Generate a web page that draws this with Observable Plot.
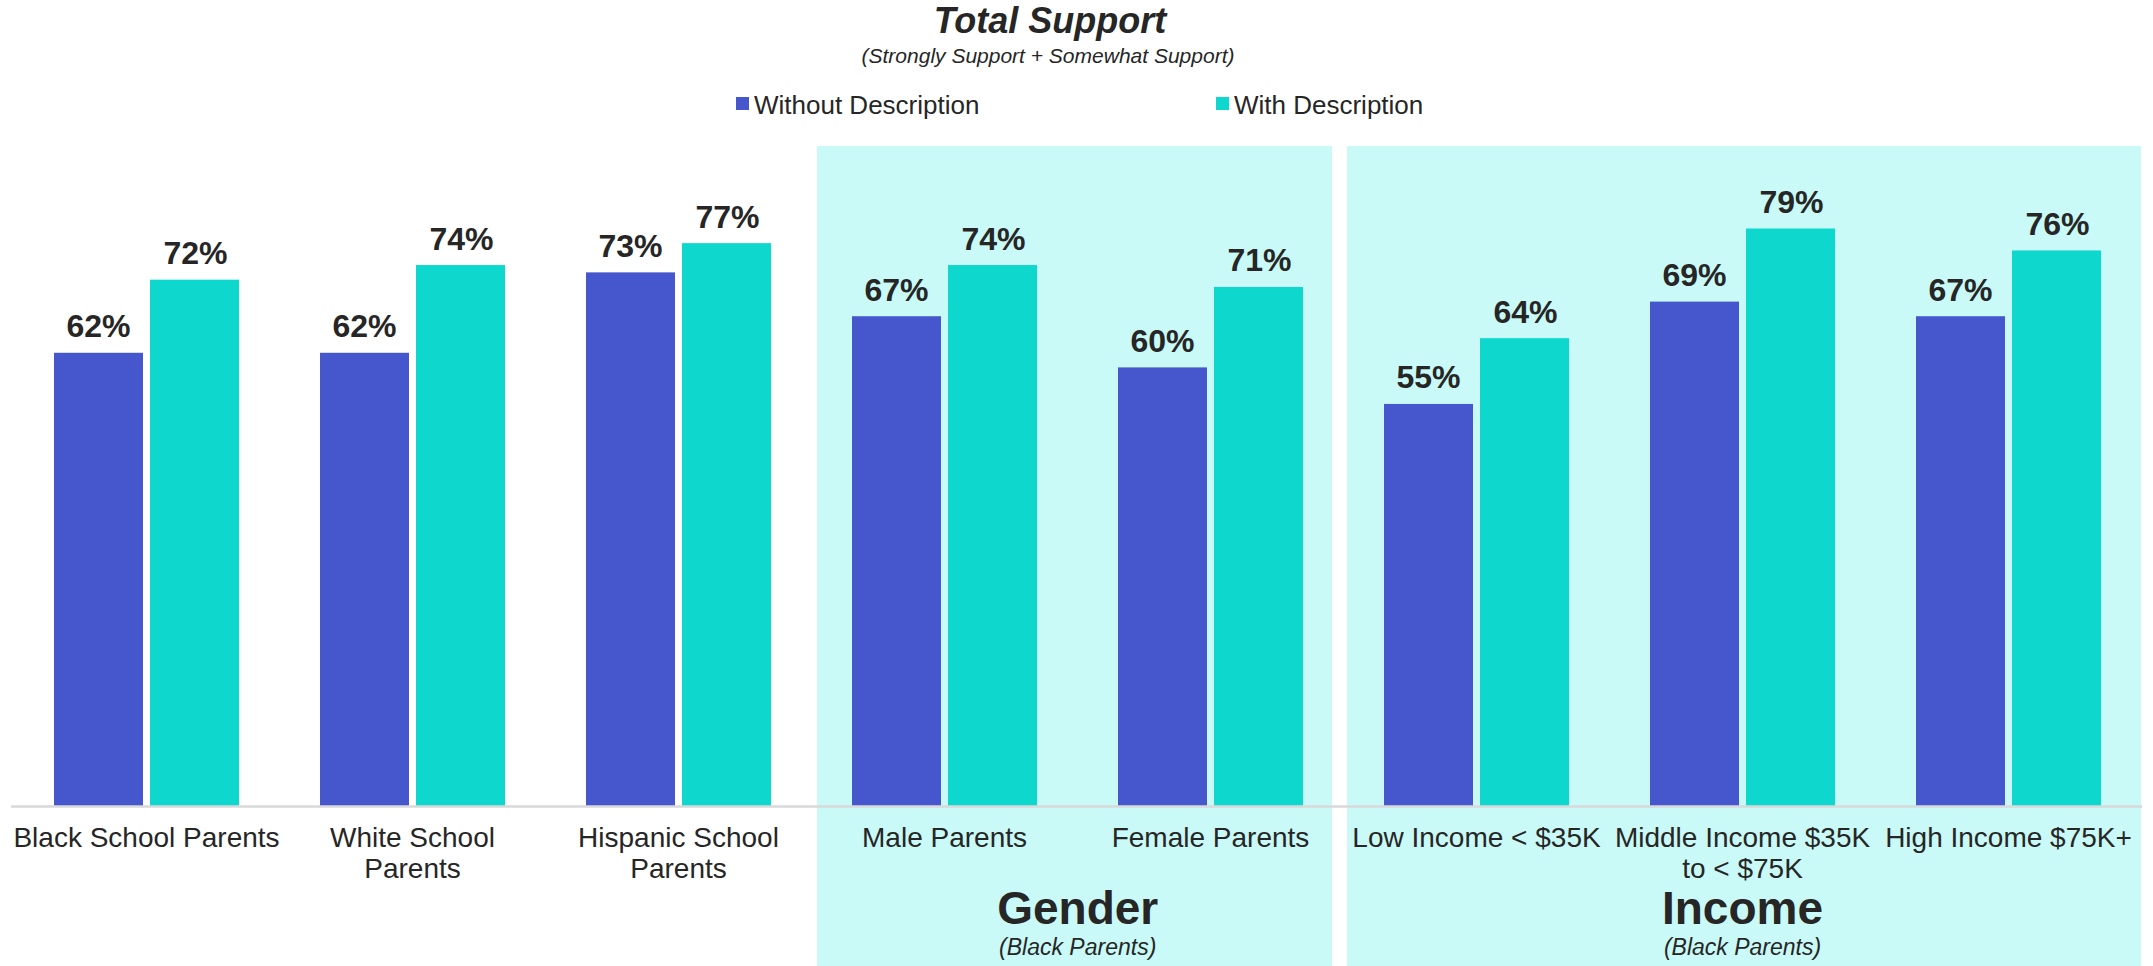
<!DOCTYPE html>
<html>
<head>
<meta charset="utf-8">
<script src="https://cdn.jsdelivr.net/npm/d3@7"></script>
<script src="https://cdn.jsdelivr.net/npm/@observablehq/plot@0.6"></script>
<style>
  html, body { margin: 0; padding: 0; background: #ffffff; }
  body { width: 2153px; height: 966px; overflow: hidden; font-family: "Liberation Sans", Arial, sans-serif; color: #262626; }
  #header { position: relative; width: 2153px; height: 130px; }
  #header div { position: absolute; white-space: nowrap; line-height: 1; }
  .title { left: 0; width: 2100px; text-align: center; top: 3px; font-size: 36px; font-weight: bold; font-style: italic; }
  .subtitle { left: 0; width: 2096px; text-align: center; top: 45px; font-size: 21px; font-style: italic; }
  .sw { width: 13px; height: 13px; top: 97px; }
  .lt { top: 92px; font-size: 26px; }
  #chart { display: block; }
</style>
</head>
<body>
<div id="header"></div>
<div id="chart"></div>
<script>
// ---- Data ----
const categories = [
  "Black School Parents",
  "White School Parents",
  "Hispanic School Parents",
  "Male Parents",
  "Female Parents",
  "Low Income < $35K",
  "Middle Income $35K to < $75K",
  "High Income $75K+"
];
const tickLabels = [
  "Black School Parents",
  "White School\nParents",
  "Hispanic School\nParents",
  "Male Parents",
  "Female Parents",
  "Low Income < $35K",
  "Middle Income $35K\nto < $75K",
  "High Income $75K+"
];
const withoutDescription = [62, 62, 73, 67, 60, 55, 69, 67];
const withDescription = [72, 74, 77, 74, 71, 64, 79, 76];
const seriesNames = ["Without Description", "With Description"];
const seriesColors = ["#4657CD", "#0ED8CE"];
const genderCats = ["Male Parents", "Female Parents"];
const incomeCats = ["Low Income < $35K", "Middle Income $35K to < $75K", "High Income $75K+"];
const groupTitles = ["Gender", "Income"];
const groupSubtitle = "(Black Parents)";
const chartTitle = "Total Support";
const chartSubtitle = "(Strongly Support + Somewhat Support)";

// ---- Header (title + legend) ----
const header = document.getElementById("header");
header.innerHTML = `
  <div class="title">${chartTitle}</div>
  <div class="subtitle">${chartSubtitle}</div>
  <div class="sw" style="left:736px;background:${seriesColors[0]}"></div>
  <div class="lt" style="left:754px">${seriesNames[0]}</div>
  <div class="sw" style="left:1216px;background:${seriesColors[1]}"></div>
  <div class="lt" style="left:1234px">${seriesNames[1]}</div>
`;

// ---- Chart ----
const W = 2153, H = 836;
const mL = 11, mR = 11, mB = 160;
const base = H - mB;          // pixel y of 0%
const pxPer = 7.31;           // pixels per percentage point
const step = (W - mL - mR) / categories.length;

const rowsWithout = categories.map((c, i) => ({cat: c, v: withoutDescription[i]}));
const rowsWith = categories.map((c, i) => ({cat: c, v: withDescription[i]}));
const labelOf = new Map(categories.map((c, i) => [c, tickLabels[i]]));

// panel extents in value units (top of shaded panel, bottom of page)
const panelTop = (base - 16) / pxPer;
const panelBottom = (base - H) / pxPer;
const panelFill = "#C9FAF7";

const chart = Plot.plot({
  width: W,
  height: H,
  marginLeft: mL,
  marginRight: mR,
  marginTop: 0,
  marginBottom: mB,
  style: {fontFamily: '"Liberation Sans", Arial, sans-serif', color: "#262626", background: "transparent", overflow: "visible"},
  x: {domain: categories, padding: 0, axis: null},
  y: {domain: [0, 100], range: [base, base - 100 * pxPer], axis: null},
  marks: [
    // shaded group panels
    Plot.barY([genderCats[0]], {x: d => d, y1: panelBottom, y2: panelTop, fill: panelFill, insetLeft: 6, insetRight: 0}),
    Plot.barY([genderCats[1]], {x: d => d, y1: panelBottom, y2: panelTop, fill: panelFill, insetLeft: 0, insetRight: 11}),
    Plot.barY([incomeCats[0]], {x: d => d, y1: panelBottom, y2: panelTop, fill: panelFill, insetLeft: 4, insetRight: 0}),
    Plot.barY(incomeCats.slice(1), {x: d => d, y1: panelBottom, y2: panelTop, fill: panelFill, insetLeft: 0, insetRight: 0}),
    // bars
    Plot.barY(rowsWithout, {x: "cat", y: "v", fill: seriesColors[0], insetLeft: 41, insetRight: 136}),
    Plot.barY(rowsWith, {x: "cat", y: "v", fill: seriesColors[1], insetLeft: 137, insetRight: 40}),
    // baseline
    Plot.ruleY([0], {stroke: "#D9D9D9", strokeWidth: 2.5}),
    // value labels
    Plot.text(rowsWithout, {x: "cat", y: "v", text: d => d.v + "%", dx: -48, dy: -16, lineAnchor: "bottom", fontSize: 32, fontWeight: "bold", fill: "#262626"}),
    Plot.text(rowsWith, {x: "cat", y: "v", text: d => d.v + "%", dx: 49, dy: -16, lineAnchor: "bottom", fontSize: 32, fontWeight: "bold", fill: "#262626"}),
    // category axis
    Plot.axisX({label: null, tickSize: 0, tickPadding: 19, fontSize: 28, lineHeight: 1.1, tickFormat: d => labelOf.get(d), fill: "#262626"}),
    // group titles
    Plot.text([genderCats[0]], {x: d => d, frameAnchor: "bottom", dx: step / 2, dy: 117, text: () => groupTitles[0], fontSize: 46, fontWeight: "bold", fill: "#262626"}),
    Plot.text([incomeCats[1]], {x: d => d, frameAnchor: "bottom", dy: 117, text: () => groupTitles[1], fontSize: 46, fontWeight: "bold", fill: "#262626"}),
    Plot.text([genderCats[0]], {x: d => d, frameAnchor: "bottom", dx: step / 2, dy: 148, text: () => groupSubtitle, fontSize: 23, fontStyle: "italic", fill: "#262626"}),
    Plot.text([incomeCats[1]], {x: d => d, frameAnchor: "bottom", dy: 148, text: () => groupSubtitle, fontSize: 23, fontStyle: "italic", fill: "#262626"})
  ]
});
document.getElementById("chart").appendChild(chart);
</script>
</body>
</html>
